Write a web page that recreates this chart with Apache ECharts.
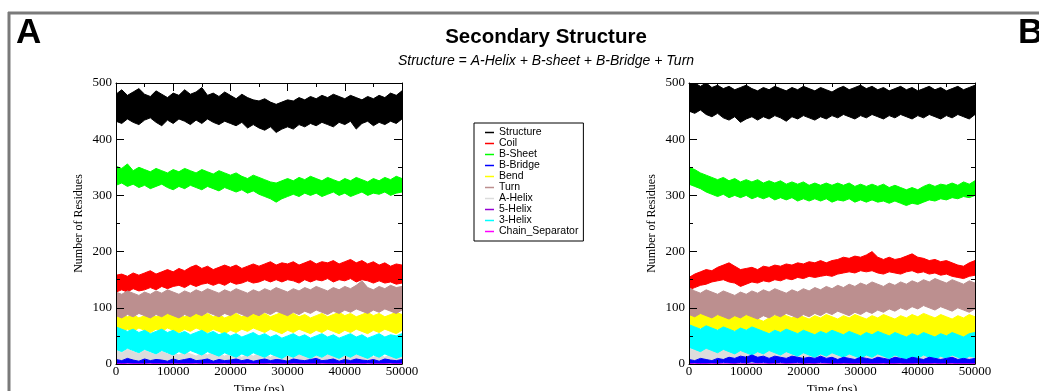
<!DOCTYPE html>
<html>
<head>
<meta charset="utf-8">
<title>Secondary Structure</title>
<script src="https://cdn.jsdelivr.net/npm/echarts@6/dist/echarts.min.js"></script>
<style>
  html, body { margin: 0; padding: 0; background: #fff; }
  #chart { width: 1039px; height: 391px; }
</style>
</head>
<body>
<div id="chart"></div>
<script>
// Secondary structure counts (DSSP) vs time, two simulations A and B
// Each band: lower and upper envelope of the noisy trace, read every 1000 ps

const timePs = [0,1000,2000,3000,4000,5000,6000,7000,8000,9000,10000,11000,12000,13000,14000,15000,16000,17000,18000,19000,20000,21000,22000,23000,24000,25000,26000,27000,28000,29000,30000,31000,32000,33000,34000,35000,36000,37000,38000,39000,40000,41000,42000,43000,44000,45000,46000,47000,48000,49000,50000];

const seriesNames = ['Structure', 'Coil', 'B-Sheet', 'B-Bridge', 'Bend', 'Turn', 'A-Helix', '5-Helix', '3-Helix', 'Chain_Separator'];
const seriesColors = ['#000000', '#ff0000', '#00ff00', '#0000ff', '#ffff00', '#bc8f8f', '#dcdcdc', '#9400d3', '#00ffff', '#ff00ff'];

const xTicks = [0, 10000, 20000, 30000, 40000, 50000];
const yTicks = [0, 100, 200, 300, 400, 500];

// --- panel A ---
const aStructHi = [480,488,478,484,490,480,476,486,480,474,482,478,488,480,484,492,478,482,476,484,478,472,480,474,470,468,472,466,462,466,470,468,474,470,476,472,478,474,480,476,472,478,474,470,476,472,478,474,482,478,486];
const aStructLo = [432,428,436,430,426,434,438,430,424,434,428,436,432,426,434,428,436,430,426,432,428,424,430,420,426,420,416,422,412,418,422,418,426,422,428,424,430,426,422,430,426,432,418,428,432,424,430,426,432,428,436];
const aSheetHi = [352,348,356,344,350,346,342,348,344,340,346,342,348,344,340,346,342,338,344,340,336,340,334,330,336,332,328,324,322,326,330,326,332,328,334,330,326,332,328,324,330,326,332,328,324,330,326,332,328,334,330];
const aSheetLo = [318,322,316,320,314,318,312,316,320,314,310,316,312,318,314,310,316,312,308,314,310,306,310,304,308,302,298,294,288,294,298,302,298,304,300,304,298,302,306,300,304,298,302,306,300,304,302,306,300,304,306];
const aCoilHi = [158,160,156,162,158,162,166,160,164,168,164,170,166,172,176,170,174,168,172,176,172,176,170,174,178,174,178,182,176,180,178,182,176,180,184,178,182,180,184,178,182,186,180,184,178,182,176,180,174,178,176];
const aCoilLo = [128,132,128,134,130,132,136,132,138,134,138,140,136,142,138,142,144,140,144,140,146,142,144,148,144,146,150,146,150,146,150,148,144,150,146,150,148,152,146,150,148,152,146,150,148,144,148,144,146,142,144];
const aTurnHi = [128,124,130,126,122,128,124,130,126,132,128,124,130,126,132,128,134,130,126,132,128,134,130,126,132,128,134,130,136,132,128,134,130,136,132,138,134,130,136,132,138,134,140,148,136,132,138,134,140,136,138];
const aTurnLo = [86,82,88,84,90,86,82,88,84,90,86,82,88,84,90,86,92,88,84,90,86,92,88,84,90,86,92,88,94,90,86,92,88,94,90,96,92,88,94,90,96,92,98,94,90,96,92,98,94,90,96];
const aBendHi = [86,90,84,88,82,86,90,84,88,92,86,90,84,88,92,86,90,84,88,82,86,90,84,88,92,86,90,84,88,92,86,90,84,88,82,86,90,84,88,92,86,90,84,88,92,86,90,84,88,92,88];
const aBendLo = [60,56,62,58,64,60,56,62,58,64,60,56,62,58,64,60,56,62,58,54,60,56,62,58,64,60,56,62,58,54,60,56,62,58,54,60,56,62,58,54,60,56,62,58,54,60,56,62,58,54,60];
const a3HelixHi = [66,62,58,62,56,60,54,58,62,56,60,54,58,52,56,60,54,58,52,56,50,54,48,52,56,50,54,48,52,46,50,54,48,52,46,50,54,48,52,46,50,54,48,52,46,50,54,48,52,50,54];
const a3HelixLo = [26,22,28,24,20,26,22,18,24,20,16,22,18,24,20,16,22,18,14,20,16,12,18,14,20,16,12,18,14,10,16,12,18,14,10,16,12,18,14,10,16,12,18,14,10,16,12,18,14,10,14];
const aAHelixHi = [24,20,26,22,18,24,20,16,22,18,20,16,22,18,14,20,16,22,18,14,20,16,12,18,14,20,16,12,18,14,16,12,18,14,10,16,12,18,14,10,16,12,18,14,20,12,16,12,18,14,16];
const aAHelixLo = [3,2,4,3,2,4,3,2,3,4,2,3,4,2,3,2,4,3,2,3,4,2,3,2,4,3,2,3,4,2,3,2,4,3,2,3,4,2,3,2,4,3,2,3,4,2,3,2,4,3,2];
const aBridgeHi = [8,6,10,7,5,9,6,8,7,5,9,6,8,10,6,7,9,5,8,6,7,9,6,8,5,7,9,6,8,7,5,9,7,6,8,10,6,7,9,5,8,6,9,7,6,8,5,9,7,6,8];
const aBridgeLo = [1,0,2,1,0,1,2,0,1,0,2,1,0,1,2,0,1,0,1,2,0,1,0,2,1,0,1,2,0,1,0,2,1,0,1,0,2,1,0,1,2,0,1,0,2,1,0,1,2,0,1];

// --- panel B ---
const bStructHi = [498,500,494,500,492,496,490,494,488,492,496,490,486,492,488,494,490,486,492,488,494,490,486,492,488,484,490,494,488,492,496,490,494,488,492,486,490,494,488,492,486,490,494,488,492,486,490,494,488,492,496];
const bStructLo = [450,446,452,444,440,446,438,434,440,430,436,440,434,440,436,442,438,432,440,436,442,438,434,440,436,442,438,444,440,436,442,438,444,440,436,442,438,444,440,436,442,438,444,440,436,442,438,444,440,436,444];
const bSheetHi = [350,346,340,336,332,328,332,326,330,324,328,324,328,322,326,322,326,320,324,320,324,318,322,318,322,318,322,318,322,316,320,316,320,316,320,314,318,314,310,314,310,316,320,316,320,318,322,318,324,320,326];
const bSheetLo = [320,316,312,306,302,298,302,296,300,296,300,294,298,294,298,292,296,292,296,290,294,290,294,290,294,288,292,290,294,288,292,288,292,288,290,286,290,286,282,286,284,288,292,290,294,292,296,294,298,296,300];
const bCoilHi = [154,160,164,168,166,172,176,180,174,168,170,172,168,174,172,176,174,178,176,180,178,182,180,184,180,184,186,190,188,192,190,194,200,190,186,190,186,188,192,196,190,188,184,186,182,184,180,176,174,180,184];
const bCoilLo = [132,136,140,142,146,148,150,146,144,138,142,146,144,148,146,150,148,152,150,154,152,156,154,156,158,156,160,162,164,162,166,164,166,162,160,164,162,160,164,166,162,164,160,162,158,160,156,154,152,156,158];
const bTurnHi = [136,130,126,132,128,124,130,126,122,128,124,130,126,132,128,134,130,126,132,128,134,130,136,132,138,134,140,136,142,138,144,140,146,142,138,144,140,146,142,148,144,150,146,152,148,144,150,146,142,148,144];
const bTurnLo = [88,84,90,86,82,88,84,80,86,82,88,84,80,86,82,88,84,90,86,82,88,84,90,86,92,88,94,90,86,92,88,94,90,96,92,98,94,100,96,102,98,104,100,96,102,98,94,100,96,92,98];
const bBendHi = [88,84,90,86,82,88,84,90,86,82,88,84,80,76,82,86,90,86,82,88,84,80,86,82,88,84,80,86,82,88,84,80,86,82,88,84,80,86,82,88,84,90,86,82,88,84,80,86,82,88,84];
const bBendLo = [62,58,64,60,56,62,58,54,60,56,62,58,54,48,56,60,56,52,58,54,60,56,52,58,54,50,56,52,58,54,50,56,52,48,54,50,56,52,48,54,50,56,52,48,54,50,56,52,48,54,52];
const b3HelixHi = [70,66,62,68,64,60,66,62,58,64,60,66,62,58,54,60,56,62,58,54,60,56,52,58,54,60,56,52,58,54,50,56,52,58,54,50,56,52,48,54,50,56,52,48,54,50,56,52,48,54,56];
const b3HelixLo = [30,26,22,28,24,20,26,22,18,24,20,16,22,18,24,20,16,22,18,14,20,16,12,18,14,20,16,12,18,14,10,16,12,18,14,10,16,12,8,14,10,16,12,8,14,10,16,12,8,14,12];
const bAHelixHi = [32,28,24,30,26,22,28,24,30,26,22,28,24,30,26,22,28,24,20,26,22,18,24,20,16,22,18,14,20,16,12,18,14,20,16,12,18,14,10,16,12,18,14,10,16,12,18,14,10,16,14];
const bAHelixLo = [4,3,5,3,2,4,3,5,2,3,4,2,3,5,3,2,4,3,2,4,3,2,3,4,2,3,2,4,3,2,3,4,2,3,2,4,3,2,3,2,4,3,2,3,4,2,3,2,4,3,3];
const bBridgeHi = [8,6,10,8,6,10,8,12,10,14,12,16,12,14,10,14,12,10,14,12,10,12,10,14,10,12,8,12,10,8,12,10,8,12,10,8,12,10,8,12,10,8,12,10,8,10,12,8,10,8,10];
const bBridgeLo = [1,2,0,1,2,1,3,2,1,3,2,4,2,3,1,2,3,1,2,3,1,2,1,3,2,1,0,2,1,0,2,1,0,1,2,0,1,2,0,1,2,0,1,2,0,1,2,0,1,0,1];

// 5-Helix and Chain_Separator stay at zero the whole run
const zeroCount = [0,0,0,0,0,0,0,0,0,0,0,0,0,0,0,0,0,0,0,0,0,0,0,0,0,0,0,0,0,0,0,0,0,0,0,0,0,0,0,0,0,0,0,0,0,0,0,0,0,0,0];

// bands per panel: [lower, upper]
const panelA = {
    'Structure': [aStructLo, aStructHi],
    'Coil': [aCoilLo, aCoilHi],
    'B-Sheet': [aSheetLo, aSheetHi],
    'B-Bridge': [aBridgeLo, aBridgeHi],
    'Bend': [aBendLo, aBendHi],
    'Turn': [aTurnLo, aTurnHi],
    'A-Helix': [aAHelixLo, aAHelixHi],
    '3-Helix': [a3HelixLo, a3HelixHi]
};
const panelB = {
    'Structure': [bStructLo, bStructHi],
    'Coil': [bCoilLo, bCoilHi],
    'B-Sheet': [bSheetLo, bSheetHi],
    'B-Bridge': [bBridgeLo, bBridgeHi],
    'Bend': [bBendLo, bBendHi],
    'Turn': [bTurnLo, bTurnHi],
    'A-Helix': [bAHelixLo, bAHelixHi],
    '3-Helix': [b3HelixLo, b3HelixHi]
};

const serif = "'Liberation Serif', 'Times New Roman', serif";
const sans = "'Liberation Sans', Arial, sans-serif";

const chart = echarts.init(document.getElementById('chart'));

function xAxisFor(grid, pos) {
    const bottom = pos === 'bottom';
    return {
        type: 'value', gridIndex: grid, position: pos,
        min: xTicks[0], max: xTicks[xTicks.length - 1], interval: xTicks[1] - xTicks[0],
        z: 5,
        axisLine: { show: true, onZero: false, lineStyle: { color: '#000', width: 1 } },
        axisTick: { show: true, inside: true, length: 8, lineStyle: { color: '#000', width: 1 } },
        minorTick: { show: true, splitNumber: 2, length: 4, lineStyle: { color: '#000', width: 1 } },
        splitLine: { show: false },
        axisLabel: { show: bottom, color: '#000', fontFamily: serif, fontSize: 13, margin: 1,
                     formatter: v => String(v) },
        name: bottom ? 'Time (ps)' : '',
        nameLocation: 'middle', nameGap: 17,
        nameTextStyle: { color: '#000', fontFamily: serif, fontSize: 13 }
    };
}

function yAxisFor(grid, pos) {
    const left = pos === 'left';
    return {
        type: 'value', gridIndex: grid, position: pos,
        min: yTicks[0], max: yTicks[yTicks.length - 1], interval: yTicks[1] - yTicks[0],
        z: 5,
        axisLine: { show: true, onZero: false, lineStyle: { color: '#000', width: 1 } },
        axisTick: { show: true, inside: true, length: 8, lineStyle: { color: '#000', width: 1 } },
        minorTick: { show: true, splitNumber: 2, length: 4, lineStyle: { color: '#000', width: 1 } },
        splitLine: { show: false },
        axisLabel: { show: left, color: '#000', fontFamily: serif, fontSize: 13, margin: 4,
                     formatter: v => String(v) },
        name: left ? 'Number of Residues' : '',
        nameLocation: 'middle', nameGap: 31,
        nameTextStyle: { color: '#000', fontFamily: serif, fontSize: 12 }
    };
}

// noisy trace drawn as a filled envelope between lower and upper values
function bandSeries(grid, name, color, lo, hi) {
    return {
        type: 'custom', name: name,
        coordinateSystem: 'cartesian2d',
        xAxisIndex: grid * 2, yAxisIndex: grid * 2,
        silent: true, clip: true,
        // B-Bridge stays visible on top of the other low bands, as in the plot
        z: name === 'B-Bridge' ? 3 : 2,
        itemStyle: { color: color },
        data: timePs.map((t, i) => [t, lo[i], hi[i]]),
        encode: { x: 0, y: [1, 2] },
        renderItem: function (params, api) {
            if (params.dataIndex !== 0) return null;
            const upper = timePs.map((t, i) => api.coord([t, hi[i]]));
            const lower = timePs.map((t, i) => api.coord([t, lo[i]])).reverse();
            return {
                type: 'polygon',
                shape: { points: upper.concat(lower) },
                style: { fill: color, stroke: color, lineWidth: 1 }
            };
        }
    };
}

function panelSeries(grid, bands) {
    const out = [];
    seriesNames.forEach(function (name, k) {
        const color = seriesColors[k];
        const band = bands[name];
        if (band) {
            out.push(bandSeries(grid, name, color, band[0], band[1]));
        } else {
            out.push({
                type: 'line', name: name,
                xAxisIndex: grid * 2, yAxisIndex: grid * 2,
                symbol: 'none', silent: true,
                itemStyle: { color: color },
                lineStyle: { color: color, width: 1 },
                data: timePs.map((t, i) => [t, zeroCount[i]])
            });
        }
    });
    return out;
}

const option = {
    animation: false,
    backgroundColor: '#fff',
    grid: [
        { left: 116, top: 83, width: 286, height: 281, outerBoundsMode: 'none' },
        { left: 689, top: 83, width: 286, height: 281, outerBoundsMode: 'none' }
    ],
    xAxis: [xAxisFor(0, 'bottom'), xAxisFor(0, 'top'), xAxisFor(1, 'bottom'), xAxisFor(1, 'top')],
    yAxis: [yAxisFor(0, 'left'), yAxisFor(0, 'right'), yAxisFor(1, 'left'), yAxisFor(1, 'right')],
    legend: {
        data: seriesNames,
        orient: 'vertical',
        left: 474, top: 123,
        icon: 'rect',
        itemWidth: 9, itemHeight: 1.5,
        itemGap: 0,
        selectedMode: false,
        padding: [4, 5, 4, 11],
        borderColor: '#000', borderWidth: 1,
        backgroundColor: '#fff',
        textStyle: { color: '#000', fontFamily: sans, fontSize: 10.5, lineHeight: 10.6 }
    },
    graphic: [
        { type: 'line', shape: { x1: 8, y1: 13, x2: 1039, y2: 13 }, style: { stroke: '#7a7a7a', lineWidth: 3 }, silent: true },
        { type: 'line', shape: { x1: 9, y1: 12, x2: 9, y2: 391 }, style: { stroke: '#7a7a7a', lineWidth: 3 }, silent: true },
        { type: 'text', left: 16, top: 16, style: { text: 'A', font: 'bold 35px ' + sans, fill: '#000' } },
        { type: 'text', left: 1018, top: 16, style: { text: 'B', font: 'bold 35px ' + sans, fill: '#000' } },
        { type: 'text', x: 546, y: 37, style: { text: 'Secondary Structure', font: 'bold 20.5px ' + sans, fill: '#000', textAlign: 'center', textVerticalAlign: 'middle' } },
        { type: 'text', x: 546, y: 61, style: { text: 'Structure = A-Helix + B-sheet + B-Bridge + Turn', font: 'italic 14px ' + sans, fill: '#000', textAlign: 'center', textVerticalAlign: 'middle' } }
    ],
    series: panelSeries(0, panelA).concat(panelSeries(1, panelB))
};

chart.setOption(option);

window.addEventListener('resize', function () {
    chart.resize();
});
</script>
</body>
</html>
